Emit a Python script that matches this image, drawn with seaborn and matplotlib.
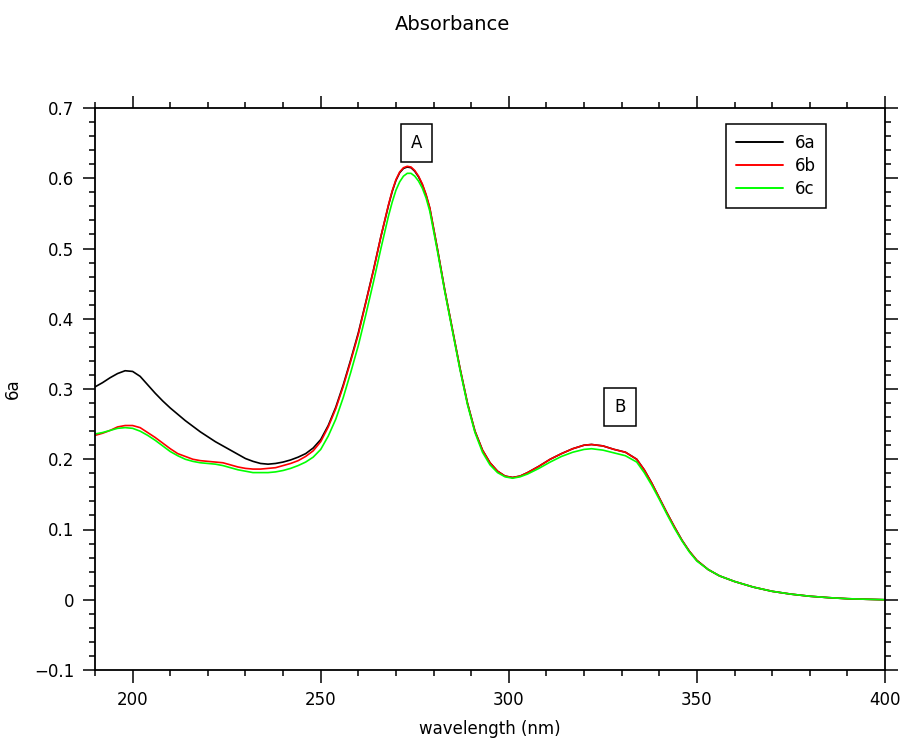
import matplotlib
matplotlib.use("Agg")
import matplotlib.pyplot as plt
from matplotlib.ticker import MultipleLocator, FuncFormatter
import seaborn as sns
import pandas as pd

wavelength = [190, 192, 194, 196, 198, 200, 202, 204, 206, 208, 210, 212, 214, 216, 218,
              220, 222, 224, 226, 228, 230, 232, 234, 236, 238, 240, 242, 244, 246, 248,
              250, 252, 254, 256, 258, 260, 262, 264, 266, 268, 269, 270, 271, 272, 273,
              274, 275, 276, 277, 278, 279, 281, 283, 285, 287, 289, 291, 293, 295, 297,
              299, 301, 303, 305, 308, 311, 314, 317, 320, 322, 325, 328, 331, 334, 336,
              338, 340, 342, 344, 346, 348, 350, 353, 356, 360, 365, 370, 375, 380, 385,
              390, 395, 400]

abs_6a = [0.303, 0.309, 0.316, 0.322, 0.326, 0.325, 0.318, 0.306, 0.294, 0.283, 0.273, 0.264, 0.255, 0.247, 0.239,
          0.232, 0.225, 0.219, 0.213, 0.207, 0.201, 0.197, 0.194, 0.193, 0.194, 0.196, 0.199, 0.203, 0.208, 0.216,
          0.228, 0.248, 0.274, 0.306, 0.342, 0.380, 0.424, 0.469, 0.517, 0.561, 0.581, 0.597, 0.608, 0.614, 0.616,
          0.615, 0.610, 0.602, 0.591, 0.576, 0.557, 0.500, 0.440, 0.385, 0.330, 0.280, 0.240, 0.213, 0.195, 0.183,
          0.176, 0.174, 0.176, 0.181, 0.190, 0.200, 0.208, 0.215, 0.220, 0.221, 0.219, 0.214, 0.210, 0.200, 0.185,
          0.166, 0.145, 0.124, 0.104, 0.085, 0.069, 0.056, 0.043, 0.034, 0.026, 0.018, 0.012, 0.008, 0.005, 0.003,
          0.0015, 0.0007, 0.0]

abs_6b = [0.234, 0.237, 0.241, 0.246, 0.248, 0.248, 0.245, 0.238, 0.231, 0.223, 0.215, 0.208, 0.204, 0.200, 0.198,
          0.197, 0.196, 0.195, 0.192, 0.189, 0.187, 0.186, 0.186, 0.187, 0.188, 0.191, 0.194, 0.198, 0.204, 0.212,
          0.225, 0.246, 0.272, 0.304, 0.340, 0.378, 0.423, 0.468, 0.517, 0.562, 0.582, 0.598, 0.609, 0.615, 0.617,
          0.616, 0.611, 0.603, 0.592, 0.577, 0.558, 0.500, 0.440, 0.385, 0.330, 0.280, 0.240, 0.213, 0.195, 0.183,
          0.176, 0.174, 0.176, 0.181, 0.190, 0.200, 0.208, 0.215, 0.220, 0.221, 0.219, 0.214, 0.210, 0.200, 0.185,
          0.166, 0.145, 0.124, 0.104, 0.085, 0.069, 0.056, 0.043, 0.034, 0.026, 0.018, 0.012, 0.008, 0.005, 0.003,
          0.0015, 0.0007, 0.0]

abs_6c = [0.236, 0.238, 0.241, 0.244, 0.245, 0.244, 0.240, 0.234, 0.227, 0.219, 0.211, 0.205, 0.200, 0.197, 0.195,
          0.194, 0.193, 0.191, 0.188, 0.185, 0.183, 0.181, 0.181, 0.181, 0.182, 0.184, 0.187, 0.191, 0.196, 0.203,
          0.214, 0.233, 0.257, 0.288, 0.324, 0.362, 0.406, 0.452, 0.500, 0.546, 0.566, 0.583, 0.595, 0.603, 0.607,
          0.607, 0.603, 0.596, 0.586, 0.572, 0.553, 0.497, 0.438, 0.383, 0.328, 0.278, 0.238, 0.210, 0.192, 0.181,
          0.175, 0.173, 0.175, 0.179, 0.187, 0.196, 0.204, 0.210, 0.214, 0.215, 0.213, 0.209, 0.205, 0.196, 0.181,
          0.163, 0.143, 0.122, 0.102, 0.084, 0.068, 0.055, 0.043, 0.034, 0.026, 0.018, 0.012, 0.008, 0.005, 0.003,
          0.0015, 0.0007, 0.0]

series_names = ["6a", "6b", "6c"]
series_colors = ["#000000", "#ff0000", "#00ff00"]
y_ticks = [-0.1, 0, 0.1, 0.2, 0.3, 0.4, 0.5, 0.6, 0.7]
x_ticks = [200, 250, 300, 350, 400]

n = len(wavelength)
df = pd.DataFrame({
    "wavelength": wavelength * 3,
    "absorbance": abs_6a + abs_6b + abs_6c,
    "sample": [series_names[0]] * n + [series_names[1]] * n + [series_names[2]] * n,
})

sns.set_style("ticks")
plt.rcParams["font.family"] = ["DejaVu Sans"]
plt.rcParams["text.color"] = "black"
plt.rcParams["axes.labelcolor"] = "black"
plt.rcParams["xtick.color"] = "black"
plt.rcParams["ytick.color"] = "black"
plt.rcParams["lines.solid_joinstyle"] = "round"

fig = plt.figure(figsize=(9.04, 7.40), dpi=100)
ax = fig.add_axes([95 / 904, 70 / 740, 790 / 904, 562 / 740])

sns.lineplot(data=df, x="wavelength", y="absorbance", hue="sample",
             palette=dict(zip(series_names, series_colors)), linewidth=1.2,
             ax=ax, legend=True, sort=False)

ax.set_xlim(190, 400)
ax.set_ylim(-0.1, 0.7)
ax.set_xticks(x_ticks)
ax.set_yticks(y_ticks)
ax.xaxis.set_minor_locator(MultipleLocator(10))
ax.yaxis.set_minor_locator(MultipleLocator(0.02))


def fmt(v, pos):
    if abs(v) < 1e-9:
        return "0"
    return f"{v:.1f}".replace("-", "\u2212")


ax.yaxis.set_major_formatter(FuncFormatter(fmt))

for s in ax.spines.values():
    s.set_linewidth(1.3)
    s.set_color("black")
    s.set_visible(True)

ax.tick_params(which="both", direction="out", top=True, right=True,
               labeltop=False, labelright=False, color="black", width=1.1)
ax.tick_params(which="major", length=9, labelsize=12, pad=6, labelcolor="black")
ax.tick_params(which="minor", length=4.5)

ax.set_xlabel("wavelength (nm)", fontsize=12, labelpad=8)
ax.set_ylabel("6a", fontsize=12)
ax.yaxis.set_label_coords(-0.093, 0.5)
fig.text(0.5, 1 - 25 / 740, "Absorbance", fontsize=14, ha="center", va="center")

leg = ax.legend(loc="upper right", bbox_to_anchor=(0.925, 0.972), fontsize=12,
                frameon=True, fancybox=False, edgecolor="black", framealpha=1,
                handlelength=2.8, handletextpad=0.7, borderpad=0.6, labelspacing=0.3,
                borderaxespad=0)
leg.get_frame().set_linewidth(1.1)
for line in leg.get_lines():
    line.set_linewidth(1.4)

ax.text(275.4, 0.650, "A", fontsize=12, ha="center", va="center",
        bbox=dict(boxstyle="square,pad=0.6", fc="white", ec="black", lw=1.1))
ax.text(329.6, 0.274, "B", fontsize=12, ha="center", va="center",
        bbox=dict(boxstyle="square,pad=0.6", fc="white", ec="black", lw=1.1))

fig.savefig("out.png", dpi=100)
